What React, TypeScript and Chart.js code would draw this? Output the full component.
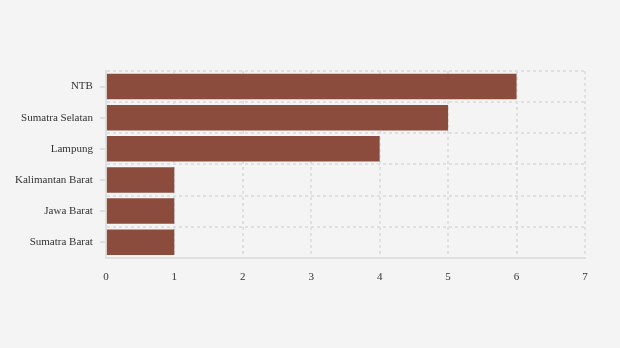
import React, { useEffect, useRef } from "react";
import { Chart, registerables } from "chart.js";
Chart.register(...registerables);

const categories = ["NTB", "Sumatra Selatan", "Lampung", "Kalimantan Barat", "Jawa Barat", "Sumatra Barat"];
const values = [6, 5, 4, 1, 1, 1];
const xMax = 7;

const centerTicks = {
  id: "centerTicks",
  afterDraw(chart: any) {
    const y = chart.scales.y;
    const ctx = chart.ctx;
    ctx.save();
    ctx.strokeStyle = "#dedede";
    ctx.lineWidth = 2;
    categories.forEach((_, i) => {
      const py = Math.round(y.getPixelForValue(i));
      ctx.beginPath();
      ctx.moveTo(chart.chartArea.left - 6, py);
      ctx.lineTo(chart.chartArea.left - 1, py);
      ctx.stroke();
    });
    ctx.restore();
  },
};

export default function App() {
  const ref = useRef<HTMLCanvasElement>(null);
  useEffect(() => {
    if (!ref.current) return;
    const font = { family: "'Liberation Serif', 'Times New Roman', serif", size: 11 };
    const chart = new Chart(ref.current, {
      type: "bar",
      data: {
        labels: categories,
        datasets: [
          {
            data: values,
            backgroundColor: "#8b4c3e",
            borderWidth: 0,
            barPercentage: 0.82,
            categoryPercentage: 1,
          },
        ],
      },
      options: {
        indexAxis: "y",
        animation: false,
        responsive: false,
        maintainAspectRatio: false,
        layout: { padding: { top: 71, right: 35, bottom: 51, left: 2 } },
        plugins: { legend: { display: false }, tooltip: { enabled: false } },
        scales: {
          x: {
            min: 0,
            max: xMax,
            ticks: { stepSize: 1, font, color: "#333", padding: 13 },
            grid: { color: "#e0e0e0", lineWidth: 2, drawTicks: false },
            border: { display: true, color: "#e0e0e0", width: 2, dash: [3, 3] },
          },
          y: {
            ticks: { font, color: "#333", padding: 13 },
            grid: { color: "#e0e0e0", lineWidth: 2, drawTicks: false, offset: true },
            border: { display: true, color: "#e0e0e0", width: 2, dash: [3, 3] },
          },
        },
      },
      plugins: [centerTicks],
    });
    return () => chart.destroy();
  }, []);
  return (
    <div style={{ position: "fixed", left: 0, top: 0, width: 620, height: 348, background: "#f4f4f4" }}>
      <canvas ref={ref} width={620} height={348} style={{ width: 620, height: 348 }} />
    </div>
  );
}
